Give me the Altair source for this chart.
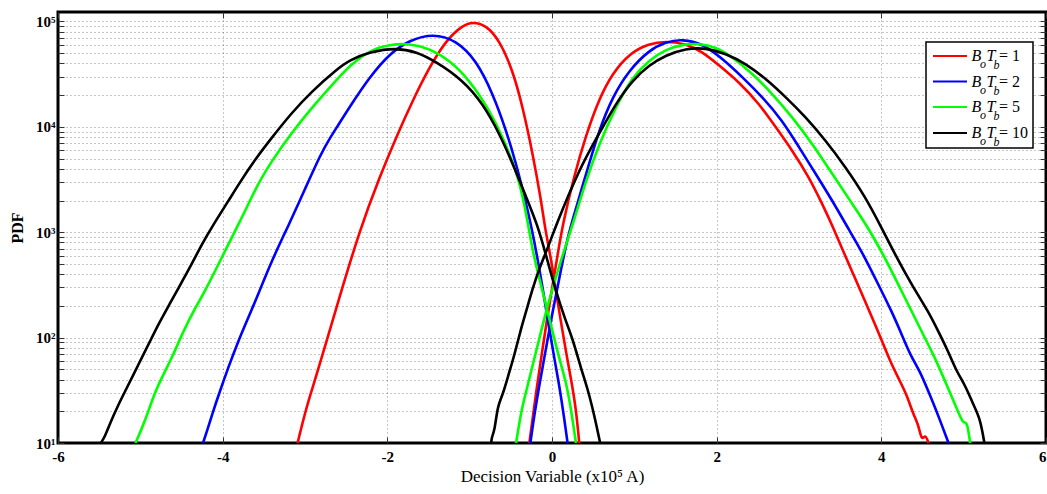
import altair as alt
import pandas as pd

# ---------------- data ----------------
series = ["1", "2", "5", "10"]
colors = ["#ff0000", "#0000ff", "#00ff00", "#000000"]

red_left_x = [-3.09, -2.987, -2.885, -2.764, -2.602, -2.336, -2.093, -1.891, -1.690, -1.487,
              -1.285, -1.084, -0.962, -0.800, -0.639, -0.478, -0.356, -0.235, -0.133, -0.081,
              -0.012, 0.048, 0.109, 0.170, 0.230, 0.291, 0.331]
red_left_y = [10, 21.3, 38.1, 79, 214, 1047, 3357, 8035, 17920, 37070,
              66530, 92270, 99100, 92270, 66530, 34510, 15490, 5600, 2018, 1047,
              564, 272, 141, 73, 41, 21.3, 10]

red_right_x = [-0.275, -0.235, -0.175, -0.114, -0.053, 0.007, 0.068, 0.128, 0.270, 0.412,
               0.573, 0.735, 0.937, 1.179, 1.382, 1.624, 1.825, 2.028, 2.270, 2.513,
               2.715, 2.916, 3.119, 3.280, 3.401, 3.522, 3.664, 3.806, 3.927, 4.028,
               4.128, 4.230, 4.310, 4.392, 4.452, 4.492, 4.533, 4.573]
red_right_y = [10, 17.1, 38.1, 79, 163, 315, 607, 1167, 3470, 8300,
               18580, 32140, 49660, 61800, 65000, 61800, 51520, 38460, 26720, 16680,
               10000, 6010, 3357, 1875, 1175, 702, 392, 219, 132, 85,
               54.8, 38.1, 28.4, 18.4, 14.8, 10.3, 12.3, 10]

blue_left_x = [-4.239, -4.199, -4.118, -4.036, -3.936, -3.815, -3.693, -3.572, -3.411, -3.188,
               -3.006, -2.805, -2.700, -2.602, -2.457, -2.215, -1.972, -1.730, -1.447, -1.164,
               -0.921, -0.720, -0.558, -0.436, -0.315, -0.255, -0.175, -0.093, -0.033, 0.028,
               0.088, 0.149, 0.189]
blue_left_y = [10, 12.3, 19.8, 30.6, 51, 91, 152, 253, 524, 1216,
               2510, 5600, 7760, 10230, 15490, 29780, 49660, 66530, 76900, 66530,
               42960, 20750, 9300, 4500, 1875, 1167, 564, 236, 122, 63.5,
               35.4, 17.1, 10]

blue_right_x = [-0.263, -0.215, -0.154, -0.073, 0.007, 0.088, 0.170, 0.230, 0.452, 0.573,
                0.735, 0.937, 1.179, 1.382, 1.583, 1.825, 2.068, 2.310, 2.553, 2.795,
                2.998, 3.200, 3.401, 3.624, 3.765, 3.967, 4.128, 4.250, 4.352, 4.473,
                4.573, 4.674, 4.816]
blue_right_y = [10, 18.4, 35.4, 79, 176, 365, 755, 1167, 4500, 9300,
                19270, 34510, 53460, 63970, 67920, 61800, 44560, 29780, 19270, 11580,
                6460, 3614, 2018, 1000, 652, 315, 176, 106, 68.2, 47.4,
                30.6, 19.8, 10]

green_left_x = [-5.059, -4.945, -4.824, -4.703, -4.602, -4.481, -4.339, -4.218, -4.017, -3.815,
                -3.733, -3.572, -3.370, -3.168, -2.926, -2.602, -2.457, -2.215, -1.972, -1.730,
                -1.487, -1.245, -1.002, -0.760, -0.599, -0.436, -0.333, -0.235, -0.154, -0.073,
                0.007, 0.088, 0.170, 0.230, 0.291]
green_left_y = [10, 15.9, 30.6, 47.4, 68.2, 113.5, 189, 272, 564, 1167,
                1550, 2904, 5190, 8650, 14960, 28770, 38000, 53460, 60530, 61800,
                55460, 42960, 27730, 14390, 8035, 3880, 1875, 652, 365, 203,
                113.5, 63.5, 38.1, 21.3, 10]

green_right_x = [-0.436, -0.376, -0.315, -0.235, -0.154, -0.073, 0.007, 0.128, 0.250, 0.412,
                 0.573, 0.776, 0.977, 1.179, 1.382, 1.583, 1.785, 1.988, 2.189, 2.432,
                 2.674, 2.916, 3.159, 3.401, 3.644, 3.846, 4.048, 4.210, 4.371, 4.533,
                 4.674, 4.795, 4.916, 4.998, 5.038, 5.079]
green_right_y = [10, 19.8, 30.6, 54.8, 98, 176, 293, 607, 1167, 3090,
                 6920, 15490, 29780, 42960, 54200, 60530, 61800, 57410, 46130, 32140,
                 20750, 12440, 6970, 3614, 1875, 1087, 564, 315, 176, 98,
                 58.9, 35.4, 21.3, 14.8, 16.6, 10]

black_left_x = [-5.479, -5.430, -5.370, -5.269, -5.188, -5.087, -4.966, -4.865, -4.784, -4.663,
                -4.562, -4.381, -4.259, -4.118, -3.936, -3.794, -3.612, -3.411, -3.168, -2.926,
                -2.602, -2.457, -2.215, -1.891, -1.648, -1.406, -1.084, -0.841, -0.639, -0.478,
                -0.315, -0.175, -0.073, 0.048, 0.170, 0.250, 0.352, 0.432, 0.513, 0.573, 0.585]
black_left_y = [10, 11.5, 15.3, 22.9, 30.6, 44.1, 68.2, 98, 132, 196,
                272, 488, 755, 1167, 1950, 2950, 4830, 7760, 13400, 21480,
                35810, 42960, 51520, 56230, 51520, 41400, 27730, 16680, 8650, 4500,
                2168, 1167, 607, 272, 141, 98, 51, 33, 18.4, 11.1, 10]

black_right_x = [-0.739, -0.730, -0.699, -0.659, -0.599, -0.518, -0.457, -0.376, -0.315, -0.235,
                 -0.154, -0.053, 0.048, 0.331, 0.573, 0.776, 0.977, 1.179, 1.382, 1.624,
                 1.867, 2.109, 2.352, 2.594, 2.836, 3.079, 3.321, 3.564, 3.806, 4.007,
                 4.170, 4.371, 4.573, 4.695, 4.816, 4.916, 5.018, 5.119, 5.200, 5.252]
black_right_y = [10, 11.6, 12.8, 22.9, 28.4, 47.4, 68.2, 122, 176, 293,
                 454, 702, 1167, 3980, 8650, 16680, 27730, 38460, 47860, 55460,
                 56230, 49660, 39990, 28770, 19270, 12440, 7480, 4170, 2168, 1087,
                 607, 315, 176, 113.5, 73, 47.4, 35.4, 22.9, 17.1, 10]

x_ticks = [-6, -4, -2, 0, 2, 4, 6]
y_ticks = [d * 10 ** p for p in range(1, 5) for d in range(1, 10)] + [100000]

curves = [
    ("1", "L", red_left_x, red_left_y), ("1", "R", red_right_x, red_right_y),
    ("2", "L", blue_left_x, blue_left_y), ("2", "R", blue_right_x, blue_right_y),
    ("5", "L", green_left_x, green_left_y), ("5", "R", green_right_x, green_right_y),
    ("10", "L", black_left_x, black_left_y), ("10", "R", black_right_x, black_right_y),
]
rows = []
k = 0
for s, lobe, xs, ys in curves:
    assert len(xs) == len(ys), (s, lobe, len(xs), len(ys))
    for i, (xv, yv) in enumerate(zip(xs, ys)):
        rows.append({"series": s, "lobe": s + lobe, "x": xv, "pdf": yv, "order": i, "grp": k})
    k += 1
df = pd.DataFrame(rows)

# ---------------- chart ----------------
FONT = "Liberation Serif"
W, H = 988, 431
TK = 6

x_scale = alt.Scale(domain=[-6, 6], nice=False, zero=False)
y_scale = alt.Scale(type="log", domain=[10, 123000], nice=False)
color_scale = alt.Scale(domain=series, range=colors)

y_label_expr = ("datum.value == 10 ? '10\u00b9' : datum.value == 100 ? '10\u00b2' : "
                "datum.value == 1000 ? '10\u00b3' : datum.value == 10000 ? '10\u2074' : "
                "datum.value == 100000 ? '10\u2075' : ''")

grid_style = dict(grid=True, gridDash=[1, 3], gridColor="#000", gridOpacity=0.45, gridWidth=1)

lines = alt.Chart(df).mark_line(strokeWidth=2.6, interpolate="basis", clip=True).encode(
    x=alt.X("x:Q", scale=x_scale,
            axis=alt.Axis(orient="bottom", values=x_ticks, labelExpr="toString(datum.value)",
                          offset=-TK, tickSize=TK, tickColor="#333", domain=False,
                          labelFlush=False,
                          labelAlign={"condition": {"test": "datum.value == 6", "value": "right"},
                                      "value": "center"},
                          labelFont=FONT, labelFontWeight="bold", labelFontSize=15,
                          labelColor="black", labelPadding=6,
                          title="Decision Variable (x10\u2075  A)", titleFont=FONT,
                          titleFontWeight="normal", titleFontSize=17, titleColor="black",
                          titlePadding=4, **grid_style)),
    y=alt.Y("pdf:Q", scale=y_scale,
            axis=alt.Axis(orient="left", values=y_ticks, labelExpr=y_label_expr,
                          offset=-TK, tickSize=TK, tickColor="#333", domain=False,
                          labelFlush=False,
                          labelFont=FONT, labelFontWeight="bold", labelFontSize=15,
                          labelColor="black", labelPadding=3, labelOverlap=False,
                          title="PDF", titleFont=FONT, titleFontWeight="bold",
                          titleFontSize=16, titleColor="black", titlePadding=10,
                          **grid_style)),
    color=alt.Color("series:N", scale=color_scale, legend=None),
    detail="grp:N",
    order="order:Q",
)

frame = alt.Chart(df).mark_line(strokeOpacity=0).encode(
    x=alt.X("x:Q", scale=x_scale,
            axis=alt.Axis(orient="top", values=x_ticks, labels=False, offset=-TK, tickSize=TK,
                          tickColor="#333", domain=False, grid=False, title=None)),
    y=alt.Y("pdf:Q", scale=y_scale,
            axis=alt.Axis(orient="right", values=y_ticks, labels=False, offset=-TK, tickSize=TK,
                          tickColor="#333", domain=False, grid=False, title=None)),
    detail="grp:N",
)

# ---------------- legend (drawn by hand for sub-scripts) ----------------
one = pd.DataFrame({"a": [0]})
legend_layers = [
    alt.Chart(one).mark_rect(fill="white", stroke="black", strokeWidth=1.5).encode(
        x=alt.value(868), x2=alt.value(975), y=alt.value(30), y2=alt.value(136))
]
entry_y = [44, 69.5, 95, 121]
for s, c, yy in zip(series, colors, entry_y):
    legend_layers.append(alt.Chart(one).mark_rule(color=c, strokeWidth=2).encode(
        x=alt.value(875), x2=alt.value(909), y=alt.value(yy)))
    for txt, xx, dy, size, style in [("B", 913.5, 0, 16, "italic"), ("o", 922, 8, 12, "italic"),
                                      ("T", 928.5, 0, 16, "italic"), ("b", 935.5, 9, 12, "italic"),
                                      ("= " + s, 941, 0, 16, "normal")]:
        legend_layers.append(alt.Chart(one).mark_text(
            align="left", baseline="middle", font=FONT, fontSize=size, fontStyle=style,
            color="black").encode(x=alt.value(xx), y=alt.value(yy + dy), text=alt.value(txt)))

chart = alt.layer(lines, frame, *legend_layers).resolve_axis(
    x="independent", y="independent"
).properties(
    width=W, height=H,
    autosize=alt.AutoSizeParams(type="none"),
    padding={"left": 58, "top": 12, "right": 1, "bottom": 51},
    background="white",
).configure_view(stroke="black", strokeWidth=3)

chart.save("out.html", embed_options={"renderer": "svg", "actions": False})
